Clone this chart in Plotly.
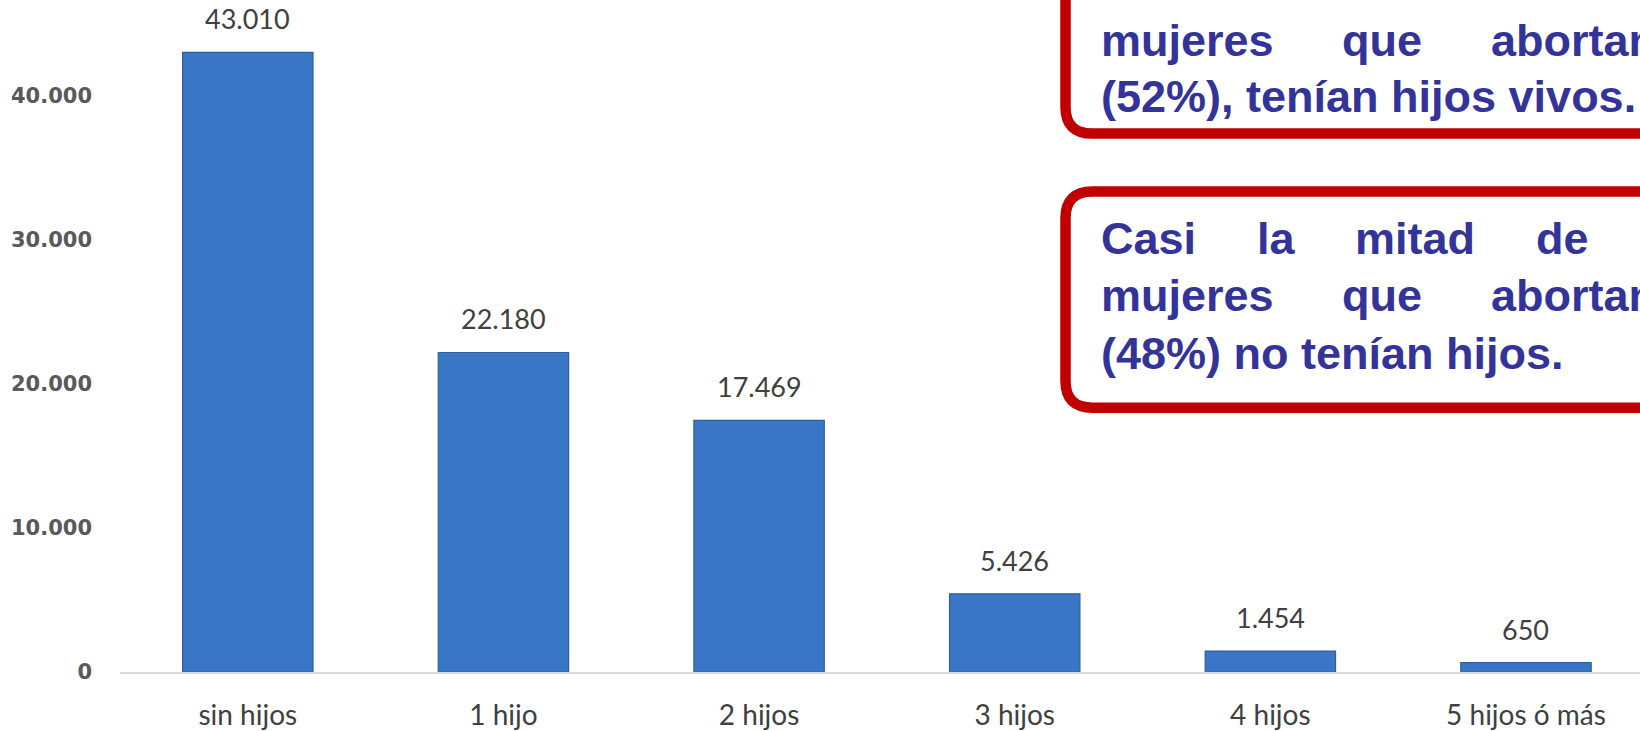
import plotly.graph_objects as go

categories = ["sin hijos", "1 hijo", "2 hijos", "3 hijos", "4 hijos", "5 hijos ó más"]
values = [43010, 22180, 17469, 5426, 1454, 650]
y_ticks = [0, 10000, 20000, 30000, 40000]

W, H = 1640, 731
ML, MB, MT = 120, 52, 0
PW = W - ML
PH = H - MB - MT


def px(x):
    return (x - ML) / PW


def py(y):
    return (H - MB - y) / PH


def fmt(v):
    return f"{v:,}".replace(",", ".")


fig = go.Figure()
fig.add_trace(go.Bar(
    x=categories, y=values,
    marker=dict(color="#3a76c6", line=dict(color="#2d5f9f", width=1.2)),
    hoverinfo="skip",
))

annotations = []
for c, v in zip(categories, values):
    annotations.append(dict(
        x=c, y=v, xref="x", yref="y", text=fmt(v), showarrow=False,
        yanchor="bottom", yshift=15,
        font=dict(family="Lato", size=27, color="#404040"),
    ))


def rounded_box(x0, y0, x1, y1, r):
    pts = [
        ("M", [(x0 + r, y0)]),
        ("L", [(x1 - r, y0)]),
        ("Q", [(x1, y0), (x1, y0 + r)]),
        ("L", [(x1, y1 - r)]),
        ("Q", [(x1, y1), (x1 - r, y1)]),
        ("L", [(x0 + r, y1)]),
        ("Q", [(x0, y1), (x0, y1 - r)]),
        ("L", [(x0, y0 + r)]),
        ("Q", [(x0, y0), (x0 + r, y0)]),
    ]
    s = ""
    for cmd, ps in pts:
        s += cmd + " " + " ".join(f"{px(a):.5f},{py(b):.5f}" for a, b in ps) + " "
    return s + "Z"


shapes = [
    dict(type="path", xref="paper", yref="paper",
         path=rounded_box(1065.5, -120, 1760, 135, 27),
         line=dict(color="#C00000", width=10.5), fillcolor="white", layer="above"),
    dict(type="path", xref="paper", yref="paper",
         path=rounded_box(1065.5, 193.5, 1760, 412, 27),
         line=dict(color="#C00000", width=10.5), fillcolor="white", layer="above"),
]

box_font = dict(family="Liberation Sans, Arial", size=45, color="#333399")


def word(text, x, baseline):
    annotations.append(dict(
        x=px(x), y=py(baseline - 16), xref="paper", yref="paper",
        text=f"<b>{text}</b>", showarrow=False, xanchor="left", yanchor="middle",
        font=box_font, borderpad=0,
    ))


# Box 1 (top, partially visible)
for t, x in [("mujeres", 1100), ("que", 1341), ("abortan", 1490)]:
    word(t, x, 57)
word("(52%), tenían hijos vivos.", 1100, 113)

# Box 2
for t, x in [("Casi", 1100), ("la", 1256), ("mitad", 1354), ("de", 1535)]:
    word(t, x, 257)
for t, x in [("mujeres", 1100), ("que", 1341), ("abortan", 1490)]:
    word(t, x, 315)
word("(48%) no tenían hijos.", 1100, 373)

fig.update_layout(
    width=W, height=H,
    margin=dict(l=ML, r=0, t=MT, b=MB, pad=0),
    paper_bgcolor="white", plot_bgcolor="white",
    separators=",.",
    bargap=0.49,
    showlegend=False,
    annotations=annotations,
    shapes=shapes,
    xaxis=dict(
        range=[-0.5, 5.446], showline=True, linecolor="#d9d9d9", linewidth=2,
        ticks="", showgrid=False, zeroline=False,
        tickfont=dict(family="Lato", size=28, color="#404040"),
        ticklabelstandoff=17,
    ),
    yaxis=dict(
        range=[0, 46650], tickvals=y_ticks, tickformat=",d",
        showgrid=False, zeroline=False, showline=False, ticks="",
        tickfont=dict(family="DejaVu Sans", size=21, color="#595959", weight="bold"),
        ticklabelstandoff=27,
    ),
)

fig.write_html(
    "out.html",
    config={"displayModeBar": False},
    post_script="document.body.style.margin='0';document.body.style.overflow='hidden';",
)
